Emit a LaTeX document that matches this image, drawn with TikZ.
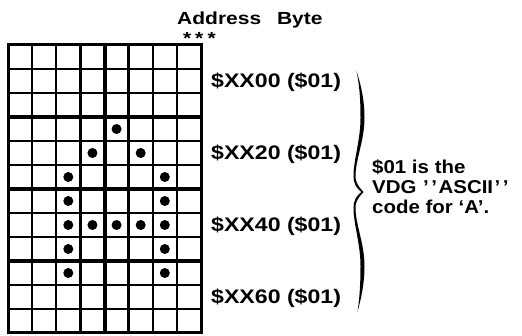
\documentclass[tikz,border=0pt]{standalone}
\usepackage{fontspec}
\setmainfont{Liberation Sans}
\newfontfamily\labfont[FakeStretch=1.18]{Liberation Sans}
\newfontfamily\ttlfont[FakeStretch=1.2]{Liberation Sans}
\newfontfamily\notefont[FakeStretch=1.1]{Liberation Sans}
\begin{document}
\begin{tikzpicture}[x=1pt,y=-1pt,
  gridthin/.style={line width=2.3pt},
  gridthick/.style={line width=4pt},
  gridborder/.style={line width=3pt},
  dotmark/.style={fill=black},
  lab/.style={anchor=base west, inner sep=0pt, font=\labfont\bfseries\fontsize{19.6}{20}\selectfont},
  ttl/.style={anchor=base west, inner sep=0pt, font=\ttlfont\bfseries\fontsize{17.5}{18}\selectfont},
  star/.style={anchor=base, inner sep=0pt, font=\ttlfont\bfseries\fontsize{17.5}{18}\selectfont},
  note/.style={anchor=base west, inner sep=0pt, font=\notefont\bfseries\fontsize{18.6}{20}\selectfont},
  bracefill/.style={fill=black}]
\useasboundingbox (0,0) rectangle (522,336);
% grid
\foreach \i in {1,2,4,5,7,8,10,11}
  \draw[gridthin] (8,{45+24*\i}) -- (201,{45+24*\i});
\foreach \i in {3,6,9}
  \draw[gridthick] (8,{45+24*\i}) -- (201,{45+24*\i});
\foreach \j in {1,2,3,5,6,7}
  \draw[gridthin] ({8+24.125*\j},45) -- ({8+24.125*\j},333);
\draw[gridthick] ({8+24.125*4},45) -- ({8+24.125*4},333);
\draw[gridborder] (8,45) rectangle (201,333);
% dots
\foreach \c/\r in {5/4, 4/5, 6/5, 3/6, 7/6, 3/7, 7/7, 3/8, 4/8, 5/8, 6/8, 7/8, 3/9, 7/9, 3/10, 7/10}
  \fill[dotmark] ({8+24.125*(\c-0.5)},{45+24*(\r-0.5)}) circle (5);
% title
\node[ttl] (title) at (177,25) {Address\hspace{10pt} Byte};
\node[star] (s1) at (187.3,45) {*};
\node[star] (s2) at (199.3,45) {*};
\node[star] (s3) at (211.7,45) {*};
% labels
\node[lab] (a0) at (211,88) {\$XX00 (\$01)};
\node[lab] (a1) at (211,160) {\$XX20 (\$01)};
\node[lab] (a2) at (211,232) {\$XX40 (\$01)};
\node[lab] (a3) at (211,304) {\$XX60 (\$01)};
% brace
\fill[bracefill] (356.5,71) .. controls (361,85) and (364.5,100) .. (364.5,118)
  .. controls (364.5,140) and (355.5,160) .. (355.5,176)
  .. controls (355.5,184) and (360,188) .. (363.5,192)
  .. controls (360,196) and (355.5,200) .. (355.5,208)
  .. controls (355.5,224) and (364.5,244) .. (364.5,266)
  .. controls (364.5,284) and (361,299) .. (357.5,312)
  .. controls (359.5,299) and (360.5,284) .. (360.5,266)
  .. controls (360.5,244) and (353.5,224) .. (353.5,208)
  .. controls (353.5,200) and (357,195) .. (361.5,192)
  .. controls (357,189) and (353.5,184) .. (353.5,176)
  .. controls (353.5,160) and (360.5,140) .. (360.5,118)
  .. controls (360.5,100) and (359.5,85) .. (356.5,71) -- cycle;
% note
\node[note] (n1) at (372,174) {\$01 is the};
\node[note] (n2) at (372,194) {VDG \kern1pt’\kern2.5pt’\kern1.5pt ASCII\kern1.5pt’\kern2.5pt’};
\node[note] (n3) at (372,214) {code for ‘A’.};
\end{tikzpicture}
\end{document}
